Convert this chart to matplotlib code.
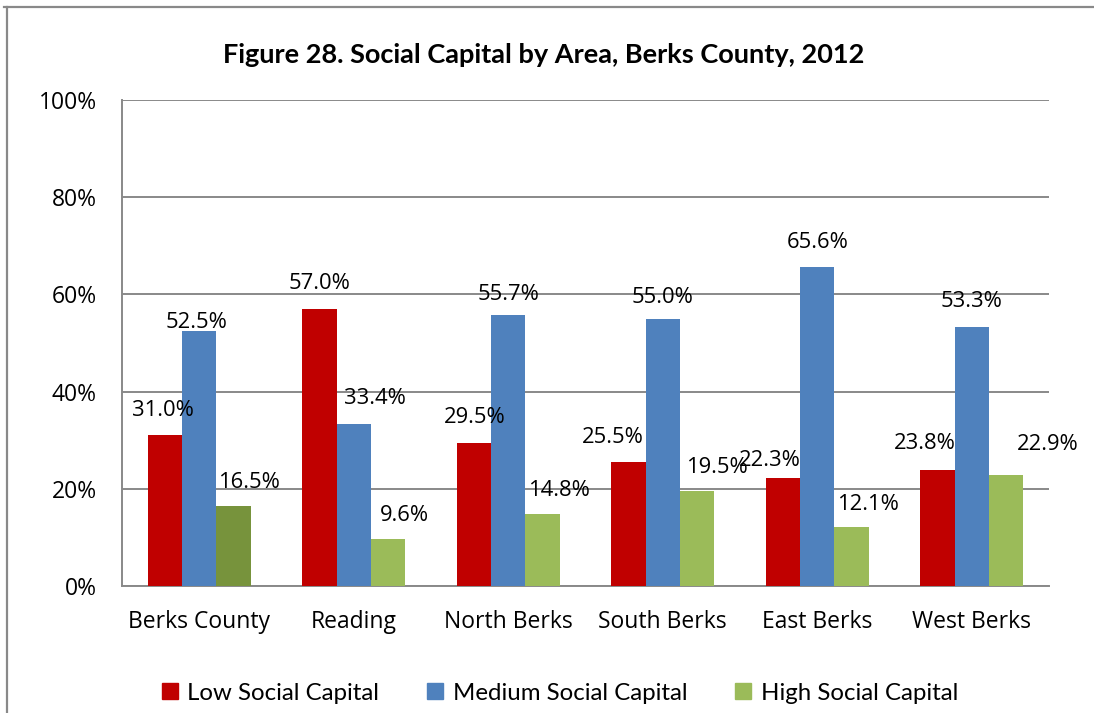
import matplotlib
matplotlib.use("Agg")
import matplotlib.pyplot as plt
from matplotlib.lines import Line2D
from matplotlib.patches import Patch
import numpy as np

areas = ["Berks County", "Reading", "North Berks", "South Berks", "East Berks", "West Berks"]
low = [31.0, 57.0, 29.5, 25.5, 22.3, 23.8]
medium = [52.5, 33.4, 55.7, 55.0, 65.6, 53.3]
high = [16.5, 9.6, 14.8, 19.5, 12.1, 22.9]
series_names = ["Low Social Capital", "Medium Social Capital", "High Social Capital"]
y_ticks = [0, 20, 40, 60, 80, 100]

RED = "#C00000"
BLUE = "#4F81BD"
GREEN = "#9BBB59"
DARK_GREEN = "#77933C"
GRID = "#898989"

# label nudges (points) for each series, per area: (dx, dy)
low_nudge = [(-1, 18), (0, 18), (1, 18), (-11, 18), (-9, 12), (-9, 19)]
med_nudge = [(-2, 6), (15, 18), (0, 15), (0, 15), (0, 18), (0, 18)]
high_nudge = [(11, 17), (12, 17), (12, 17), (14, 17), (12, 16), (30, 22)]

W, H = 1094, 713
fig = plt.figure(figsize=(W / 100, H / 100), dpi=100)
ax = fig.add_axes([122 / W, 1 - 586 / H, (1049 - 122) / W, (586 - 100) / H])

x = np.arange(len(areas))
bw = 0.223
b_low = ax.bar(x - bw, low, bw, color=RED, zorder=3)
b_med = ax.bar(x, medium, bw, color=BLUE, zorder=3)
high_colors = [DARK_GREEN] + [GREEN] * (len(areas) - 1)
b_high = ax.bar(x + bw, high, bw, color=high_colors, zorder=3)

label_font = dict(family=["Open Sans", "DejaVu Sans"], size=15.8, color="black")
for bars, vals, nudges in ((b_low, low, low_nudge), (b_med, medium, med_nudge), (b_high, high, high_nudge)):
    for rect, v, (dx, dy) in zip(bars, vals, nudges):
        ax.annotate(f"{v:.1f}%", (rect.get_x() + rect.get_width() / 2, v),
                    xytext=(dx, dy), textcoords="offset points",
                    ha="center", va="center", zorder=4, **label_font)

ax.set_xlim(-0.5, len(areas) - 0.5)
ax.set_ylim(0, 100)
ax.set_yticks(y_ticks)
ax.set_yticklabels([f"{t}%" for t in y_ticks])
ax.set_xticks(x)
ax.set_xticklabels(areas)
ax.tick_params(axis="both", length=0, labelsize=16.5, colors="black")
ax.tick_params(axis="y", pad=18)
ax.tick_params(axis="x", pad=17)
for lab in ax.get_xticklabels() + ax.get_yticklabels():
    lab.set_fontfamily(["Open Sans", "DejaVu Sans"])

ax.yaxis.grid(True, color=GRID, linewidth=1.4, zorder=0)
ax.set_axisbelow(True)
for side in ("top", "right"):
    ax.spines[side].set_visible(False)
for side in ("left", "bottom"):
    ax.spines[side].set_color(GRID)
    ax.spines[side].set_linewidth(1.4)

fig.text(0.5 * (226 + 862) / W, 1 - 55 / H, "Figure 28. Social Capital by Area, Berks County, 2012",
         ha="center", va="center", fontsize=19.5, fontweight="bold",
         family=["Lato", "DejaVu Sans"])

handles = [Patch(color=RED), Patch(color=BLUE), Patch(color=GREEN)]
fig.legend(handles, series_names, loc="center", bbox_to_anchor=(560 / W, 1 - 693 / H),
           ncol=3, frameon=False, handlelength=0.65, handleheight=0.65,
           handletextpad=0.4, columnspacing=2.0,
           prop=dict(family=["Lato", "DejaVu Sans"], size=17.3))

# outer frame of the chart area
fig.add_artist(Line2D([4 / W, 1], [1 - 7 / H, 1 - 7 / H], color=GRID, linewidth=1.6))
fig.add_artist(Line2D([7 / W, 7 / W], [0, 1 - 7 / H], color=GRID, linewidth=1.6))

fig.savefig("out.png", dpi=100, facecolor="white")
